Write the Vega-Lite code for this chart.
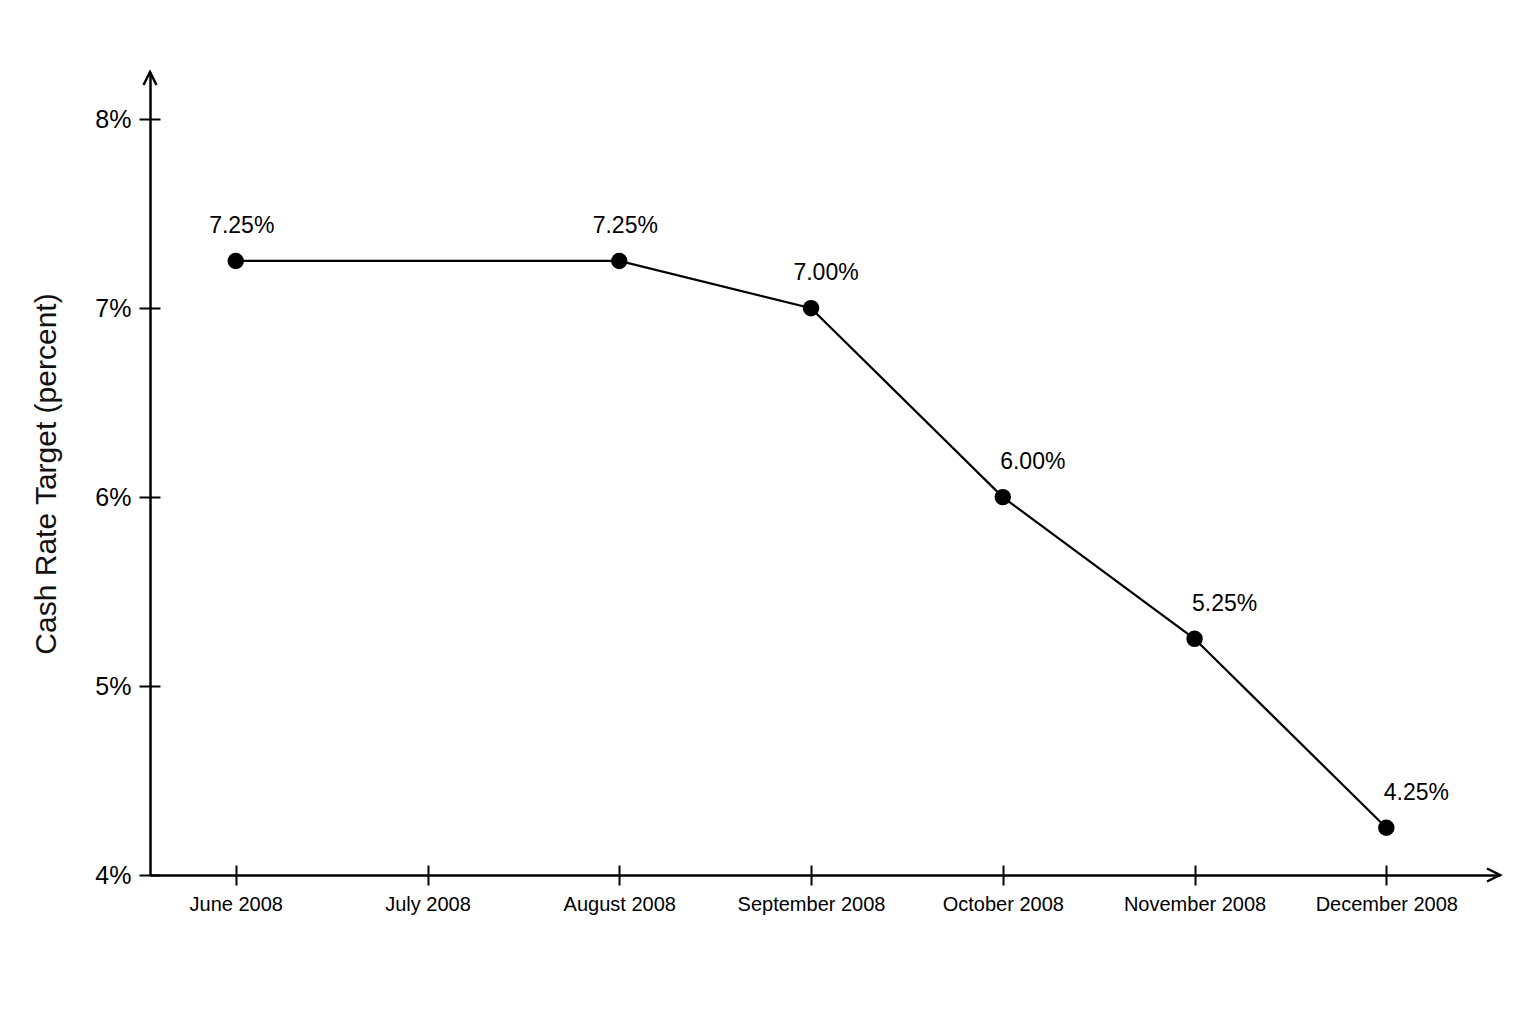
{
  "$schema": "https://vega.github.io/schema/vega-lite/v6.json",
  "width": 1350,
  "height": 803,
  "autosize": {"type": "none"},
  "padding": {"left": 150, "top": 72, "right": 36, "bottom": 149},
  "background": "white",
  "config": {"view": {"stroke": null}, "font": "Liberation Sans"},
  "data": {
    "values": [
      {"month": "June 2008", "rate": 7.25, "label": "7.25%"},
      {"month": "August 2008", "rate": 7.25, "label": "7.25%"},
      {"month": "September 2008", "rate": 7.0, "label": "7.00%"},
      {"month": "October 2008", "rate": 6.0, "label": "6.00%"},
      {"month": "November 2008", "rate": 5.25, "label": "5.25%"},
      {"month": "December 2008", "rate": 4.25, "label": "4.25%"}
    ]
  },
  "resolve": {"scale": {"x": "independent"}, "axis": {"y": "independent"}},
  "layer": [
    {
      "mark": {"type": "line", "color": "black", "strokeWidth": 2.2},
      "encoding": {
        "x": {
          "field": "month",
          "type": "ordinal",
          "scale": {
            "type": "point",
            "padding": 0.52,
            "align": 0.43,
            "domain": ["June 2008", "July 2008", "August 2008", "September 2008", "October 2008", "November 2008", "December 2008"]
          },
          "axis": {
            "orient": "bottom",
            "tickSize": 10,
            "tickWidth": 2,
            "tickColor": "black",
            "domainColor": "black",
            "domainWidth": 2.5,
            "labelFontSize": 20,
            "labelColor": "black",
            "labelPadding": 9,
            "labelAngle": 0,
            "grid": false,
            "title": null
          }
        },
        "y": {
          "field": "rate",
          "type": "quantitative",
          "scale": {"domain": [4, 8.25], "nice": false, "zero": false},
          "axis": {
            "orient": "left",
            "values": [4, 5, 6, 7, 8],
            "labelExpr": "datum.value + '%'",
            "tickSize": 11,
            "tickWidth": 2,
            "tickColor": "black",
            "domainColor": "black",
            "domainWidth": 2.5,
            "labelFontSize": 25,
            "labelColor": "black",
            "labelPadding": 8,
            "grid": false,
            "title": "Cash Rate Target (percent)",
            "titleFontSize": 30,
            "titleFontWeight": "normal",
            "titleColor": "#111111",
            "titlePadding": 33
          }
        }
      }
    },
    {
      "mark": {"type": "point", "filled": true, "color": "black", "size": 270, "opacity": 1},
      "encoding": {
        "x": {
          "field": "month",
          "type": "ordinal",
          "scale": {
            "type": "point",
            "padding": 0.52,
            "align": 0.43,
            "domain": ["June 2008", "July 2008", "August 2008", "September 2008", "October 2008", "November 2008", "December 2008"]
          },
          "axis": {
            "orient": "bottom",
            "offset": -10,
            "tickSize": 10,
            "tickWidth": 2,
            "tickColor": "black",
            "domain": false,
            "labels": false,
            "grid": false,
            "title": null
          }
        },
        "y": {
          "field": "rate",
          "type": "quantitative",
          "scale": {"domain": [4, 8.25], "nice": false, "zero": false},
          "axis": {
            "orient": "left",
            "offset": -10,
            "values": [4, 5, 6, 7, 8],
            "tickSize": 10,
            "tickWidth": 2,
            "tickColor": "black",
            "domain": false,
            "labels": false,
            "grid": false,
            "title": null
          }
        }
      }
    },
    {
      "mark": {
        "type": "text",
        "fontSize": 23,
        "color": "black",
        "align": "center",
        "baseline": "middle",
        "dy": -35,
        "dx": {"expr": "datum.rate >= 7.25 ? 6 : datum.rate >= 7 ? 15 : 30"}
      },
      "encoding": {
        "x": {
          "field": "month",
          "type": "ordinal",
          "scale": {
            "type": "point",
            "padding": 0.52,
            "align": 0.43,
            "domain": ["June 2008", "July 2008", "August 2008", "September 2008", "October 2008", "November 2008", "December 2008"]
          },
          "axis": null
        },
        "y": {
          "field": "rate",
          "type": "quantitative",
          "scale": {"domain": [4, 8.25], "nice": false, "zero": false},
          "axis": null
        },
        "text": {"field": "label"}
      }
    },
    {
      "data": {"values": [{}]},
      "mark": {"type": "point", "shape": "M-0.5,1L0,0L0.5,1", "filled": false, "stroke": "black", "strokeWidth": 2.5, "size": 676, "opacity": 1},
      "encoding": {
        "x": {"datum": 0, "type": "quantitative", "scale": {"domain": [0, 1]}, "axis": null},
        "y": {"datum": 8.25, "type": "quantitative", "scale": {"domain": [4, 8.25], "nice": false, "zero": false}, "axis": null}
      }
    },
    {
      "data": {"values": [{}]},
      "mark": {"type": "point", "shape": "M-1,-0.5L0,0L-1,0.5", "filled": false, "stroke": "black", "strokeWidth": 2.5, "size": 676, "opacity": 1},
      "encoding": {
        "x": {"datum": 1, "type": "quantitative", "scale": {"domain": [0, 1]}, "axis": null},
        "y": {"datum": 4, "type": "quantitative", "scale": {"domain": [4, 8.25], "nice": false, "zero": false}, "axis": null}
      }
    }
  ]
}
